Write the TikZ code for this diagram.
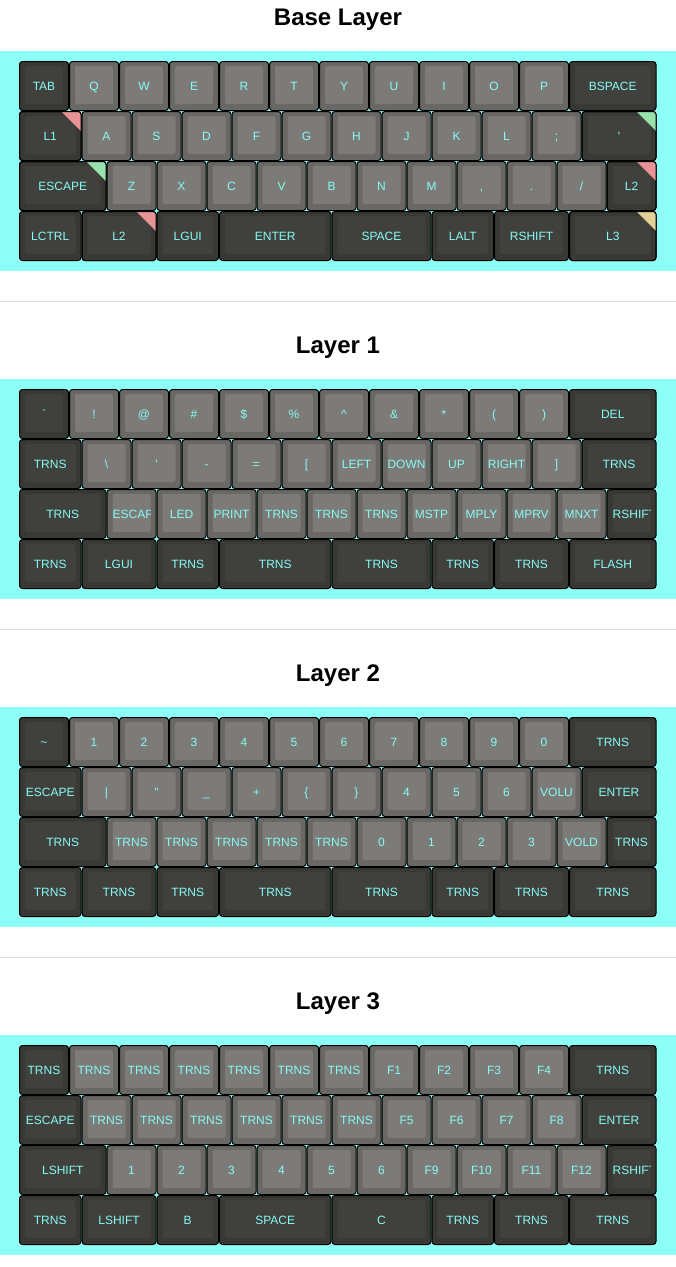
\documentclass[tikz,border=0pt]{standalone}
\usepackage{fontspec}
\setmainfont{Liberation Sans}
\definecolor{bg}{RGB}{142,255,247}
\definecolor{txt}{RGB}{136,250,244}
\definecolor{gout}{RGB}{105,104,101}
\definecolor{gin}{RGB}{124,123,120}
\definecolor{dout}{RGB}{56,57,52}
\definecolor{din}{RGB}{64,65,60}
\definecolor{tred}{RGB}{232,148,150}
\definecolor{tgreen}{RGB}{154,226,172}
\definecolor{tyellow}{RGB}{226,210,150}
\definecolor{sepc}{RGB}{221,221,221}
\tikzset{
  keyborder/.style={draw=black, line width=1pt, rounded corners=3pt},
  klabel/.style={text=txt, inner sep=0pt, anchor=base, font=\fontsize{12}{14}\selectfont},
  title/.style={anchor=base, inner sep=0pt, font=\fontsize{24}{28}\selectfont\bfseries},
  band/.style={fill=bg},
  sepline/.style={draw=sepc, line width=1pt}
}
\newcount\keycnt
\newcommand\krowat[1]{\def\ky{#1}\def\kx{19}}
\newcommand\keybody[2]{%
  \global\advance\keycnt by 1
  \pgfmathsetmacro\xa{\kx}%
  \pgfmathsetmacro\xb{\kx+#1*50}%
  \pgfmathsetmacro\xc{(\xa+\xb)/2}%
  \pgfmathsetmacro\yb{\ky+50}%
  \draw[keyborder, fill=#2out] (\xa+0.5,\ky+0.5) rectangle (\xb-0.5,\yb-0.5);
  \fill[#2in, rounded corners=2pt] (\xa+6,\ky+5) rectangle (\xb-6,\yb-7);
}
\newcommand\keyN[3]{\keybody{#1}{#2}\node[klabel] (key\the\keycnt) at (\xc,\ky+29) {#3};\let\kx\xb}
\newcommand\keyG[1]{\keyN{1}{g}{#1}}
\newcommand\keyC[3]{\keybody{#1}{#2}%
  \begin{scope}\clip (\xa+6,\ky) rectangle (\xb-6.5,\yb);
  \node[klabel,anchor=base west] (key\the\keycnt) at (\xa+6,\ky+29) {#3};\end{scope}\let\kx\xb}
\newcommand\keyT[4]{\keybody{#1}{#2}\node[klabel] (key\the\keycnt) at (\xc,\ky+29) {#3};
  \begin{scope}\clip[rounded corners=3pt] (\xa+0.5,\ky+0.5) rectangle (\xb-0.5,\yb-0.5);
  \fill[#4] (\xb-20.5,\ky) -- (\xb,\ky) -- (\xb,\ky+20.5) -- cycle;\end{scope}
  \draw[keyborder] (\xa+0.5,\ky+0.5) rectangle (\xb-0.5,\yb-0.5);
  \let\kx\xb}
\begin{document}
\begin{tikzpicture}[x=1pt,y=-1pt]
\useasboundingbox (0,0) rectangle (676,1267);
\fill[white] (0,0) rectangle (676,1267);
% titles, bands, separators
\node[title] (t0) at (338,25.6) {Base Layer};
\node[title] (t1) at (338,353.6) {Layer 1};
\node[title] (t2) at (338,681.6) {Layer 2};
\node[title] (t3) at (338,1009.6) {Layer 3};
\fill[band] (0,51) rectangle (676,271);
\fill[band] (0,379) rectangle (676,599);
\fill[band] (0,707) rectangle (676,927);
\fill[band] (0,1035) rectangle (676,1255);
\draw[sepline] (0,301) -- (676,301);
\draw[sepline] (0,629) -- (676,629);
\draw[sepline] (0,957) -- (676,957);
% ---------- Base layer
\krowat{61}
\keyN{1}{d}{TAB}\keyG{Q}\keyG{W}\keyG{E}\keyG{R}\keyG{T}\keyG{Y}\keyG{U}\keyG{I}\keyG{O}\keyG{P}\keyN{1.75}{d}{BSPACE}
\krowat{111}
\keyT{1.25}{d}{L1}{tred}\keyG{A}\keyG{S}\keyG{D}\keyG{F}\keyG{G}\keyG{H}\keyG{J}\keyG{K}\keyG{L}\keyG{;}\keyT{1.5}{d}{\textquotesingle}{tgreen}
\krowat{161}
\keyT{1.75}{d}{ESCAPE}{tgreen}\keyG{Z}\keyG{X}\keyG{C}\keyG{V}\keyG{B}\keyG{N}\keyG{M}\keyG{,}\keyG{.}\keyG{/}\keyT{1}{d}{L2}{tred}
\krowat{211}
\keyN{1.25}{d}{LCTRL}\keyT{1.5}{d}{L2}{tred}\keyN{1.25}{d}{LGUI}\keyN{2.25}{d}{ENTER}\keyN{2}{d}{SPACE}\keyN{1.25}{d}{LALT}\keyN{1.5}{d}{RSHIFT}\keyT{1.75}{d}{L3}{tyellow}
% ---------- Layer 1
\krowat{389}
\keyN{1}{d}{\textasciigrave}\keyG{!}\keyG{@}\keyG{\#}\keyG{\$}\keyG{\%}\keyG{\textasciicircum}\keyG{\&}\keyG{*}\keyG{(}\keyG{)}\keyN{1.75}{d}{DEL}
\krowat{439}
\keyN{1.25}{d}{TRNS}\keyG{\textbackslash}\keyG{\textquotesingle}\keyG{-}\keyG{=}\keyG{[}\keyG{LEFT}\keyG{DOWN}\keyG{UP}\keyG{RIGHT}\keyG{]}\keyN{1.5}{d}{TRNS}
\krowat{489}
\keyN{1.75}{d}{TRNS}\keyC{1}{g}{ESCAPE}\keyG{LED}\keyG{PRINT}\keyG{TRNS}\keyG{TRNS}\keyG{TRNS}\keyG{MSTP}\keyG{MPLY}\keyG{MPRV}\keyG{MNXT}\keyC{1}{d}{RSHIFT}
\krowat{539}
\keyN{1.25}{d}{TRNS}\keyN{1.5}{d}{LGUI}\keyN{1.25}{d}{TRNS}\keyN{2.25}{d}{TRNS}\keyN{2}{d}{TRNS}\keyN{1.25}{d}{TRNS}\keyN{1.5}{d}{TRNS}\keyN{1.75}{d}{FLASH}
% ---------- Layer 2
\krowat{717}
\keyN{1}{d}{\textasciitilde}\keyG{1}\keyG{2}\keyG{3}\keyG{4}\keyG{5}\keyG{6}\keyG{7}\keyG{8}\keyG{9}\keyG{0}\keyN{1.75}{d}{TRNS}
\krowat{767}
\keyN{1.25}{d}{ESCAPE}\keyG{\textbar}\keyG{\textquotedbl}\keyG{\_}\keyG{+}\keyG{\{}\keyG{\}}\keyG{4}\keyG{5}\keyG{6}\keyG{VOLU}\keyN{1.5}{d}{ENTER}
\krowat{817}
\keyN{1.75}{d}{TRNS}\keyG{TRNS}\keyG{TRNS}\keyG{TRNS}\keyG{TRNS}\keyG{TRNS}\keyG{0}\keyG{1}\keyG{2}\keyG{3}\keyG{VOLD}\keyN{1}{d}{TRNS}
\krowat{867}
\keyN{1.25}{d}{TRNS}\keyN{1.5}{d}{TRNS}\keyN{1.25}{d}{TRNS}\keyN{2.25}{d}{TRNS}\keyN{2}{d}{TRNS}\keyN{1.25}{d}{TRNS}\keyN{1.5}{d}{TRNS}\keyN{1.75}{d}{TRNS}
% ---------- Layer 3
\krowat{1045}
\keyN{1}{d}{TRNS}\keyG{TRNS}\keyG{TRNS}\keyG{TRNS}\keyG{TRNS}\keyG{TRNS}\keyG{TRNS}\keyG{F1}\keyG{F2}\keyG{F3}\keyG{F4}\keyN{1.75}{d}{TRNS}
\krowat{1095}
\keyN{1.25}{d}{ESCAPE}\keyG{TRNS}\keyG{TRNS}\keyG{TRNS}\keyG{TRNS}\keyG{TRNS}\keyG{TRNS}\keyG{F5}\keyG{F6}\keyG{F7}\keyG{F8}\keyN{1.5}{d}{ENTER}
\krowat{1145}
\keyN{1.75}{d}{LSHIFT}\keyG{1}\keyG{2}\keyG{3}\keyG{4}\keyG{5}\keyG{6}\keyG{F9}\keyG{F10}\keyG{F11}\keyG{F12}\keyC{1}{d}{RSHIFT}
\krowat{1195}
\keyN{1.25}{d}{TRNS}\keyN{1.5}{d}{LSHIFT}\keyN{1.25}{d}{B}\keyN{2.25}{d}{SPACE}\keyN{2}{d}{C}\keyN{1.25}{d}{TRNS}\keyN{1.5}{d}{TRNS}\keyN{1.75}{d}{TRNS}
\end{tikzpicture}
\end{document}
